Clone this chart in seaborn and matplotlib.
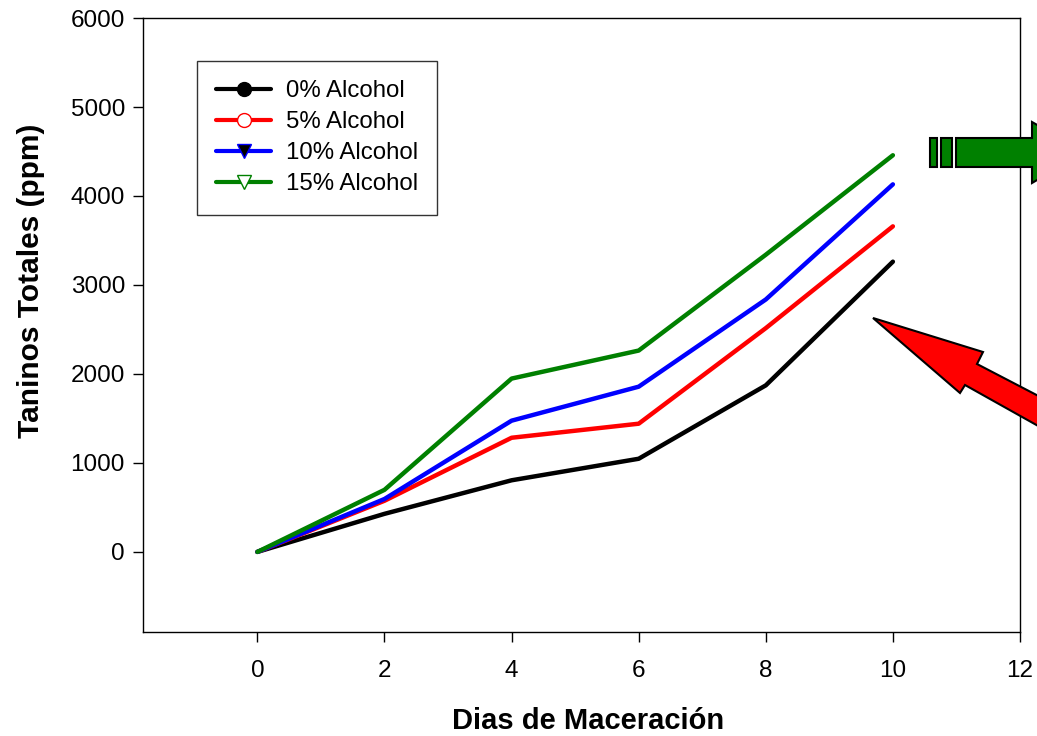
import pandas as pd
import matplotlib.pyplot as plt
import seaborn as sns
from matplotlib.lines import Line2D
from matplotlib.patches import Polygon

dias = [0, 2, 4, 6, 8, 10]
alc_0 = [0, 428, 805, 1047, 1872, 3262]
alc_5 = [0, 575, 1283, 1441, 2515, 3659]
alc_10 = [0, 595, 1475, 1857, 2837, 4131]
alc_15 = [0, 698, 1948, 2263, 3340, 4458]
series = ["0% Alcohol", "5% Alcohol", "10% Alcohol", "15% Alcohol"]
colores = ["black", "red", "blue", "green"]

df = pd.DataFrame({
    "dias": dias * 4,
    "taninos": alc_0 + alc_5 + alc_10 + alc_15,
    "serie": [s for s in series for _ in dias],
})

sns.set_theme(style="white", rc={"text.color": "black", "axes.labelcolor": "black"})
plt.rcParams["font.family"] = ["Liberation Sans", "DejaVu Sans"]

fig = plt.figure(figsize=(10.37, 7.36), dpi=100)
ax = fig.add_axes([0.1379, 0.1413, 0.8457, 0.8342])

sns.lineplot(data=df, x="dias", y="taninos", hue="serie", palette=colores,
             linewidth=3.2, legend=False, ax=ax)

ax.set_xlim(-1.8, 12)
ax.set_ylim(-900, 6000)
ax.set_xticks([0, 2, 4, 6, 8, 10, 12])
ax.set_yticks([0, 1000, 2000, 3000, 4000, 5000, 6000])
ax.tick_params(axis="both", direction="out", length=7, width=1, color="black",
               labelsize=17.5, labelcolor="black", bottom=True, left=True, pad=6)
ax.tick_params(axis="x", pad=13)
for s in ax.spines.values():
    s.set_color("black")
    s.set_linewidth(1)

ax.set_xlabel("Dias de Maceración", fontsize=21, fontweight="bold")
ax.set_ylabel("Taninos Totales (ppm)", fontsize=21.5, fontweight="bold")
ax.xaxis.set_label_coords(0.507, -0.122)
ax.yaxis.set_label_coords(-0.112, 0.572)

handles = [
    Line2D([], [], color="black", lw=3, marker="o", markersize=10,
           markerfacecolor="black", markeredgecolor="black"),
    Line2D([], [], color="red", lw=3, marker="o", markersize=10,
           markerfacecolor="white", markeredgecolor="red"),
    Line2D([], [], color="blue", lw=3, marker="v", markersize=10,
           markerfacecolor="black", markeredgecolor="blue"),
    Line2D([], [], color="green", lw=3, marker="v", markersize=10,
           markerfacecolor="white", markeredgecolor="green"),
]
leg = ax.legend(handles, series, loc="upper left", bbox_to_anchor=(0.0615, 0.9305),
                fontsize=17.3, frameon=True, fancybox=False, edgecolor="black",
                handlelength=2.3, handletextpad=0.6, labelspacing=0.38,
                borderpad=0.8, borderaxespad=0)
leg.get_frame().set_linewidth(1)


def fig_pts(pts):
    return [(x / 1037, 1 - y / 736) for x, y in pts]


# flecha verde (arriba a la derecha)
for pts in [
    [(930, 138), (937, 138), (937, 167), (930, 167)],
    [(941, 138), (952, 138), (952, 167), (941, 167)],
    [(956, 138), (1032, 138), (1032, 122), (1085, 152), (1032, 183),
     (1032, 167), (956, 167)],
]:
    fig.add_artist(Polygon(fig_pts(pts), closed=True, transform=fig.transFigure,
                           facecolor="green", edgecolor="black", linewidth=1.5))

# flecha roja
fig.add_artist(Polygon(fig_pts([(873, 318), (983, 352), (977, 364), (1100, 428),
                                 (1090, 455), (965, 385), (960, 393)]),
                       closed=True, transform=fig.transFigure,
                       facecolor="red", edgecolor="black", linewidth=1.5))

fig.savefig("out.png", dpi=100)
